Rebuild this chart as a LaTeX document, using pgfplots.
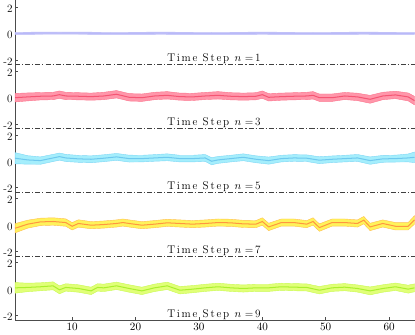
\documentclass[border=0pt]{standalone}
\usepackage{fontspec}
\usepackage{pgfplots}
\usepackage{pgfplotstable}
\pgfplotsset{compat=1.18}
\usepgfplotslibrary{groupplots,fillbetween}

\definecolor{bBand}{RGB}{200,200,250}
\definecolor{bLine}{RGB}{185,185,248}
\definecolor{rBand}{RGB}{255,150,170}
\definecolor{rEdge}{RGB}{252,115,140}
\definecolor{rLine}{RGB}{245,85,115}
\definecolor{cBand}{RGB}{165,238,252}
\definecolor{cEdge}{RGB}{125,215,245}
\definecolor{cLine}{RGB}{110,200,238}
\definecolor{yBand}{RGB}{255,243,90}
\definecolor{yEdge}{RGB}{255,190,80}
\definecolor{yLine}{RGB}{255,150,65}
\definecolor{gBand}{RGB}{225,255,120}
\definecolor{gEdge}{RGB}{200,250,80}
\definecolor{gLine}{RGB}{170,240,45}

% n = 1
\pgfplotstableread{
x lo m hi
1 -0.08 0.00 0.08
8 -0.06 0.02 0.10
16 -0.08 0.00 0.08
24 -0.07 0.01 0.09
32 -0.08 0.00 0.08
40 -0.07 0.01 0.09
48 -0.08 0.00 0.08
56 -0.07 0.01 0.09
64 -0.08 0.00 0.08
}\stepA

% n = 3
\pgfplotstableread{
x lo m hi
1 -0.35 -0.03 0.29
3 -0.27 0.03 0.33
5 -0.20 0.08 0.36
7 -0.18 0.10 0.38
8 -0.08 0.20 0.48
9 -0.18 0.10 0.38
11 -0.19 0.08 0.35
13 -0.22 0.05 0.32
15 -0.18 0.10 0.38
17 -0.05 0.23 0.51
19 -0.28 0.00 0.28
21 -0.31 -0.03 0.25
23 -0.18 0.10 0.38
25 -0.13 0.15 0.43
27 -0.22 0.05 0.32
29 -0.24 0.03 0.30
31 -0.17 0.10 0.37
33 -0.13 0.15 0.43
35 -0.19 0.08 0.35
37 -0.22 0.05 0.32
39 -0.19 0.08 0.35
40 -0.08 0.20 0.48
41 -0.28 0.00 0.28
43 -0.22 0.05 0.32
45 -0.19 0.08 0.35
47 -0.18 0.10 0.38
48 -0.13 0.15 0.43
49 -0.31 -0.03 0.25
51 -0.31 -0.03 0.25
53 -0.17 0.10 0.37
55 -0.25 0.03 0.31
57 -0.45 -0.15 0.15
59 -0.18 0.10 0.38
61 -0.10 0.18 0.46
63 -0.27 0.03 0.33
64 -0.57 -0.25 0.07
}\stepB

% n = 5
\pgfplotstableread{
x lo m hi
1 -0.19 0.23 0.65
3 -0.22 0.10 0.42
5 -0.23 0.05 0.33
7 -0.02 0.25 0.52
8 0.08 0.35 0.62
9 -0.02 0.25 0.52
11 -0.08 0.18 0.44
13 -0.11 0.15 0.41
15 -0.03 0.23 0.49
17 0.07 0.33 0.59
19 -0.06 0.20 0.46
21 -0.05 0.20 0.45
23 0.00 0.25 0.50
25 0.04 0.30 0.56
27 -0.05 0.20 0.45
29 -0.05 0.20 0.45
31 -0.01 0.25 0.51
32 -0.27 0.00 0.27
33 -0.16 0.10 0.36
35 -0.05 0.20 0.45
37 0.04 0.30 0.56
39 -0.11 0.15 0.41
41 -0.22 0.05 0.32
43 -0.05 0.20 0.45
45 0.00 0.25 0.50
47 -0.02 0.23 0.48
49 -0.18 0.08 0.34
51 -0.10 0.15 0.40
53 -0.05 0.20 0.45
55 -0.01 0.25 0.51
57 -0.23 0.05 0.33
59 -0.08 0.18 0.44
61 -0.06 0.20 0.46
63 -0.05 0.25 0.55
64 -0.10 0.30 0.70
}\stepC

% n = 7
\pgfplotstableread{
x lo m hi
1 -0.58 -0.23 0.12
3 -0.22 0.08 0.38
5 -0.03 0.25 0.53
7 0.00 0.28 0.56
9 -0.08 0.20 0.48
10 -0.36 -0.08 0.20
11 -0.15 0.13 0.41
13 -0.27 0.00 0.27
15 -0.22 0.05 0.32
17 -0.14 0.13 0.40
18 -0.07 0.20 0.47
19 -0.14 0.13 0.40
21 -0.27 0.00 0.27
23 -0.19 0.08 0.35
25 -0.09 0.18 0.45
27 -0.14 0.13 0.40
29 -0.19 0.08 0.35
31 -0.14 0.13 0.40
33 -0.07 0.20 0.47
35 -0.09 0.18 0.45
37 -0.17 0.10 0.37
39 -0.19 0.08 0.35
40 0.00 0.28 0.56
41 -0.41 -0.13 0.15
43 -0.07 0.20 0.47
45 -0.07 0.20 0.47
47 -0.19 0.08 0.35
48 0.00 0.28 0.56
49 -0.46 -0.18 0.10
51 -0.07 0.20 0.47
53 -0.07 0.20 0.47
55 -0.14 0.13 0.40
56 0.10 0.38 0.66
57 -0.41 -0.13 0.15
59 -0.14 0.13 0.40
61 -0.36 -0.08 0.20
63 -0.36 -0.08 0.20
64 0.08 0.40 0.72
}\stepD

% n = 9
\pgfplotstableread{
x lo m hi
1 -0.30 0.10 0.50
3 -0.19 0.13 0.45
5 -0.12 0.18 0.48
7 -0.05 0.25 0.55
8 -0.35 -0.05 0.25
9 -0.15 0.13 0.41
11 -0.23 0.05 0.33
13 -0.41 -0.13 0.15
14 -0.15 0.13 0.41
15 -0.18 0.10 0.38
17 -0.03 0.25 0.53
19 -0.23 0.05 0.33
21 -0.41 -0.13 0.15
23 -0.18 0.10 0.38
25 -0.03 0.25 0.53
27 -0.36 -0.08 0.20
29 -0.27 0.00 0.27
31 -0.17 0.10 0.37
33 -0.09 0.18 0.45
35 -0.17 0.10 0.37
37 -0.22 0.05 0.32
39 -0.17 0.10 0.37
41 -0.17 0.10 0.37
43 -0.09 0.18 0.45
45 -0.12 0.15 0.42
47 -0.14 0.13 0.40
49 -0.36 -0.08 0.20
51 -0.17 0.10 0.37
53 -0.12 0.15 0.42
55 -0.22 0.05 0.32
57 -0.43 -0.13 0.17
59 -0.23 0.05 0.33
61 -0.10 0.18 0.46
63 -0.30 0.00 0.30
64 -0.20 0.10 0.40
}\stepE

% band + mean line; #1 table, #2 fill, #3 edge, #4 line, #5 tag
\newcommand\band[5]{%
  \addplot[draw=none, name path=hi#5] table[x=x, y=hi] {#1};
  \addplot[draw=none, name path=lo#5] table[x=x, y=lo] {#1};
  \addplot[fill=#2, draw=#3, line width=0.4pt] fill between[of=hi#5 and lo#5];
  \addplot[#4, line width=1pt] table[x=x, y=m] {#1};
}
% letter-spaced word, ended by \relax
\def\ls#1{\ifx#1\relax\else#1\kern1.7pt\expandafter\ls\fi}
\newcommand\steplabel[1]{%
  \node[anchor=base, inner sep=0pt, yshift=2.2pt, font=\fontsize{11}{12}\selectfont]
    at (rel axis cs:0.5,0) {\ls Time\relax\ \ls Step\relax\ $n$\ \ls =#1\relax};}
\newcommand\sepline{%
  \draw[black!75, line width=0.4pt, dash pattern=on 5pt off 2pt on 1pt off 2pt]
    (rel axis cs:0,0) -- (rel axis cs:1,0);}

\begin{document}
\begin{tikzpicture}
\begin{groupplot}[
    group style={group size=1 by 5, vertical sep=0pt},
    scale only axis,
    width=393.5pt,
    height=63pt,
    xmin=1, xmax=64,
    ymin=-2.33, ymax=2.5,
    axis y line=left,
    axis x line=bottom,
    axis line style={-, black!70, line width=0.5pt},
    tick style={black!70, line width=0.5pt},
    tick align=inside,
    major tick length=3pt,
    ytick={-2,0,2},
    yticklabels={-2,0,2},
    xtick={10,20,...,60},
    ticklabel style={font=\fontsize{11}{12}\selectfont},
    yticklabel style={xshift=1pt, yshift=-1.5pt},
    clip=false,
]
\nextgroupplot[axis x line=none]
\band{\stepA}{bBand}{bLine}{bLine}{a}
\sepline
\steplabel{1}

\nextgroupplot[axis x line=none]
\band{\stepB}{rBand}{rEdge}{rLine}{b}
\sepline
\steplabel{3}

\nextgroupplot[axis x line=none]
\band{\stepC}{cBand}{cEdge}{cLine}{c}
\sepline
\steplabel{5}

\nextgroupplot[axis x line=none]
\band{\stepD}{yBand}{yEdge}{yLine}{d}
\sepline
\steplabel{7}

\nextgroupplot
\band{\stepE}{gBand}{gEdge}{gLine}{e}
\steplabel{9}
\end{groupplot}
\end{tikzpicture}
\end{document}
